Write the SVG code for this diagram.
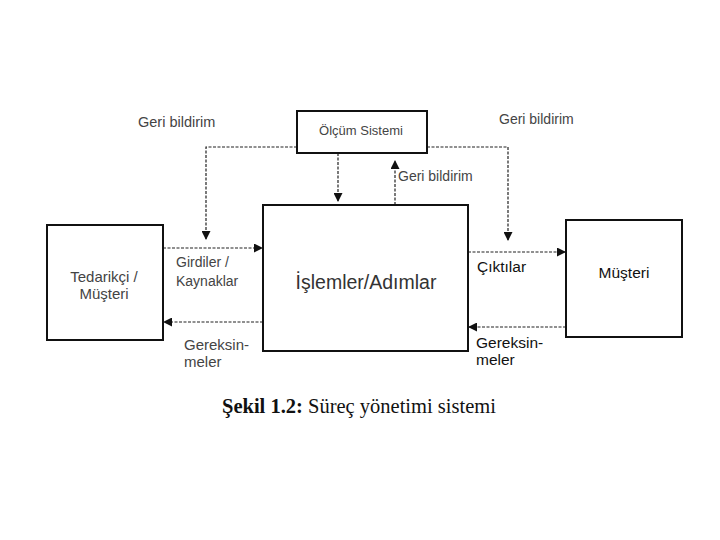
<svg xmlns="http://www.w3.org/2000/svg" width="720" height="540" viewBox="0 0 720 540">
<style>
.box{fill:#fff;stroke:#111;stroke-width:2}
.ln{fill:none;stroke:#222;stroke-width:1.2;stroke-dasharray:3,1.5}
.t{font-family:"Liberation Sans",Arial,sans-serif;font-size:14px;fill:#444}
.tb{font-family:"Liberation Sans",Arial,sans-serif;font-size:15.5px;fill:#111}
.cap{font-family:"Liberation Serif","Times New Roman",serif;font-size:20.5px;fill:#111}
</style>
<defs>
<marker id="ah" viewBox="0 0 10 10" refX="10" refY="5" markerWidth="9" markerHeight="9" markerUnits="userSpaceOnUse" orient="auto">
<path d="M0,0 L10,5 L0,10 z" fill="#111"/>
</marker>
</defs>
<rect width="720" height="540" fill="#fff"/>
<g id="connectors">
<polyline class="ln" points="297,147 206,147 206,240" marker-end="url(#ah)"/>
<line class="ln" x1="338" y1="153" x2="338" y2="202" marker-end="url(#ah)"/>
<line class="ln" x1="395" y1="205" x2="395" y2="160" marker-end="url(#ah)"/>
<polyline class="ln" points="427,147 508,147 508,241" marker-end="url(#ah)"/>
<line class="ln" x1="163" y1="248" x2="263" y2="248" marker-end="url(#ah)"/>
<line class="ln" x1="263" y1="322" x2="163" y2="322" marker-end="url(#ah)"/>
<line class="ln" x1="468" y1="252" x2="566" y2="252" marker-end="url(#ah)"/>
<line class="ln" x1="566" y1="327" x2="468" y2="327" marker-end="url(#ah)"/>
</g>
<g id="olcum">
<rect class="box" x="297" y="111" width="130" height="42"/>
<text class="t" x="361" y="135" text-anchor="middle" style="font-size:13px">Ölçüm Sistemi</text>
</g>
<g id="islemler">
<rect class="box" x="263" y="205" width="205" height="146"/>
<text class="tb" x="366" y="289" text-anchor="middle" style="font-size:19.5px;fill:#333">İşlemler/Adımlar</text>
</g>
<g id="tedarikci">
<rect class="box" x="47" y="225" width="116" height="115"/>
<text class="t" x="104" y="282" text-anchor="middle" style="font-size:15px">Tedarikçi /</text>
<text class="t" x="104" y="299" text-anchor="middle" style="font-size:15px">Müşteri</text>
</g>
<g id="musteri">
<rect class="box" x="566" y="220" width="116" height="117"/>
<text class="tb" x="624" y="278" text-anchor="middle">Müşteri</text>
</g>
<g id="labels">
<text class="t" x="138" y="127" style="font-size:14.5px">Geri bildirim</text>
<text class="t" x="499" y="124">Geri bildirim</text>
<text class="t" x="398" y="181">Geri bildirim</text>
<text class="t" x="176" y="267">Girdiler /</text>
<text class="t" x="176" y="286">Kaynaklar</text>
<text class="t" x="184" y="350" style="font-size:15px">Gereksin-</text>
<text class="t" x="184" y="367" style="font-size:15px">meler</text>
<text class="tb" x="477" y="272">Çıktılar</text>
<text class="tb" x="476" y="348">Gereksin-</text>
<text class="tb" x="476" y="365">meler</text>
<text class="cap" x="222" y="413"><tspan font-weight="bold">Şekil 1.2:</tspan> Süreç yönetimi sistemi</text>
</g>
</svg>
